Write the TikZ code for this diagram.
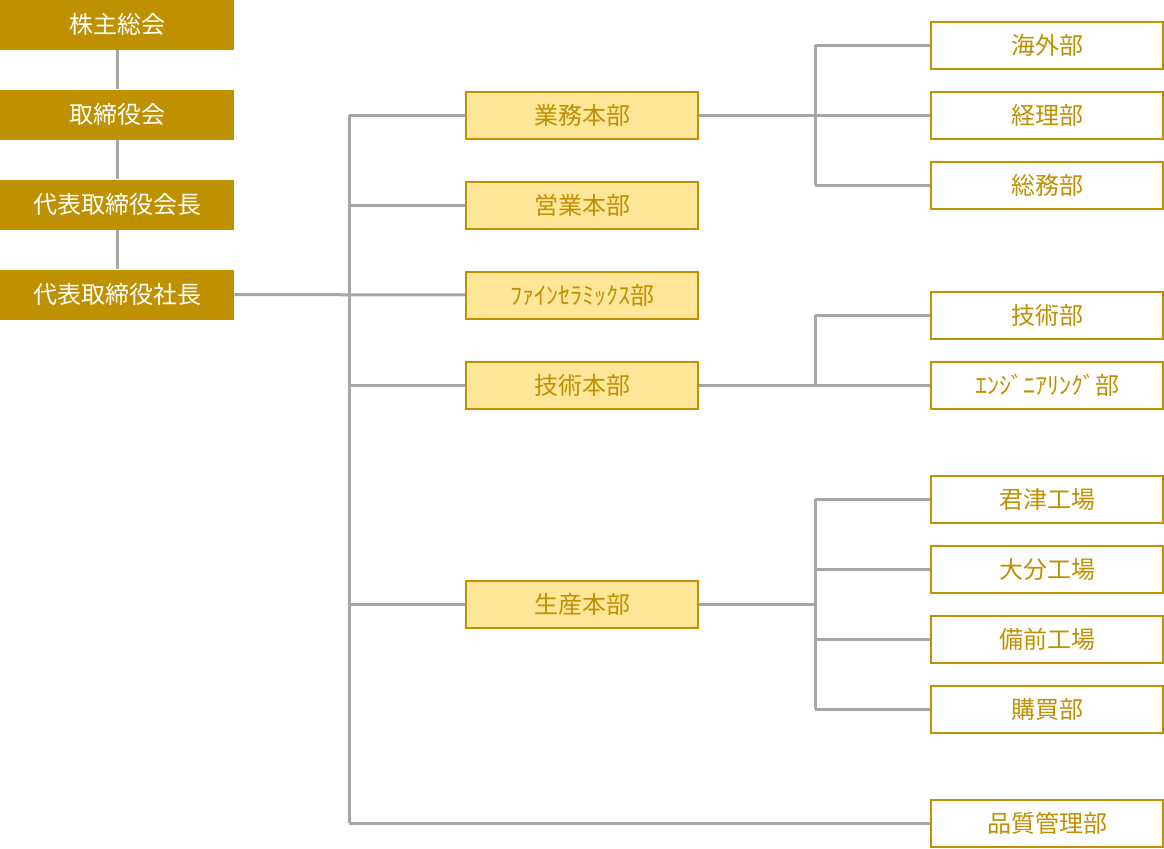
\documentclass[tikz,border=0pt]{standalone}
\usepackage{fontspec}
\setmainfont{Noto Sans CJK JP}
\usepackage{xcolor}
\usepackage{tikz}
\usetikzlibrary{positioning, calc}

\definecolor{gold}{HTML}{BF9000}
\definecolor{paleyellow}{HTML}{FFE699}
\definecolor{linegray}{HTML}{A6A6A6}

\tikzset{
  topbox/.style={fill=gold, text=white, minimum width=117pt, minimum height=25pt, inner sep=0pt, font=\fontsize{12}{14}\selectfont},
  deptbox/.style={draw=gold, line width=1pt, fill=paleyellow, text=gold, minimum width=116pt, minimum height=23.5pt, inner sep=0pt, font=\fontsize{12}{14}\selectfont},
  secbox/.style={draw=gold, line width=1pt, fill=white, text=gold, minimum width=116pt, minimum height=23.5pt, inner sep=0pt, font=\fontsize{12}{14}\selectfont},
  wire/.style={draw=linegray, line width=1.5pt}
}

\begin{document}
\begin{tikzpicture}[x=0.5pt, y=-0.5pt]
        \useasboundingbox (0,0) rectangle (1164,848);

        % Top management
        \foreach \n/\y/\t in {gm/24.5/株主総会, bd/114.5/取締役会, ch/204.5/代表取締役会長, pr/294.5/代表取締役社長} {
          \node[topbox] (\n) at (117,\y) {\t};
        }
        \foreach \a/\b in {gm/bd, bd/ch, ch/pr} {
          \draw[wire] (\a) -- (\b);
        }

        % Headquarters
        \foreach \n/\y/\t in {gyomu/115/業務本部, eigyo/205/営業本部, fine/295/ﾌｧｲﾝｾﾗﾐｯｸｽ部, gijutsu/385/技術本部, seisan/604/生産本部} {
          \node[deptbox] (\n) at (582,\y) {\t};
        }

        % Departments
        \foreach \n/\y/\t in {kaigai/45/海外部, keiri/115/経理部, somu/185/総務部, gijutsubu/315/技術部, eng/385/ｴﾝｼﾞﾆｱﾘﾝｸﾞ部, kimitsu/499/君津工場, oita/569/大分工場, bizen/639/備前工場, kobai/709/購買部, hinshitsu/823/品質管理部} {
          \node[secbox] (\n) at (1047,\y) {\t};
        }

        % Trunk lines
        \coordinate (trunk) at (349,0);
        \coordinate (sub) at (815,0);
        \draw[wire] (pr) -- (fine);
        \draw[wire] (gyomu.west -| trunk) -- (hinshitsu.west -| trunk);
        \foreach \n in {gyomu, eigyo, gijutsu, seisan, hinshitsu} {
          \draw[wire] (\n.west -| trunk) -- (\n.west);
        }

        % Branches to departments
        \draw[wire] (gyomu) -- (keiri);
        \draw[wire] (kaigai.west -| sub) -- (somu.west -| sub);
        \draw[wire] (gijutsu) -- (eng);
        \draw[wire] (gijutsubu.west -| sub) -- (eng.west -| sub);
        \draw[wire] (seisan.east) -- (seisan.east -| sub);
        \draw[wire] (kimitsu.west -| sub) -- (kobai.west -| sub);
        \foreach \n in {kaigai, somu, gijutsubu, kimitsu, oita, bizen, kobai} {
          \draw[wire] (\n.west -| sub) -- (\n.west);
        }
      \end{tikzpicture}
\end{document}
